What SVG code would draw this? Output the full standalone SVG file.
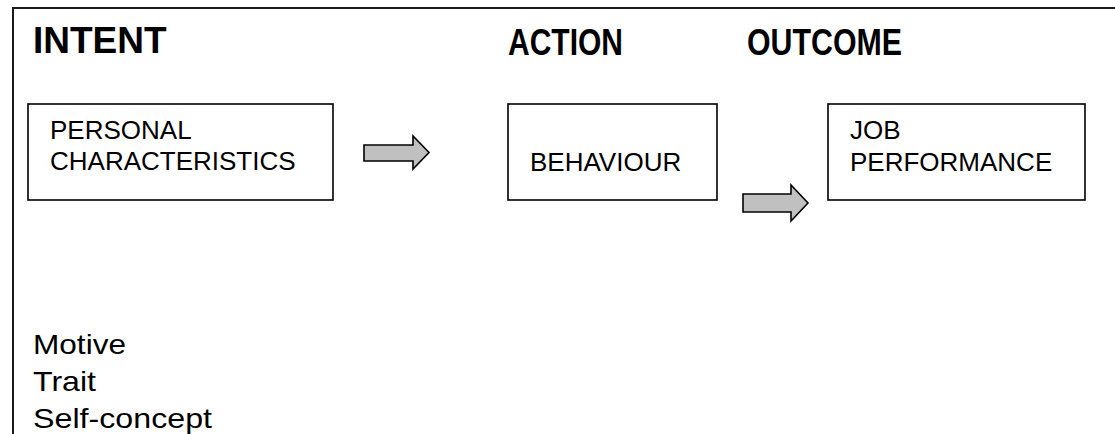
<svg xmlns="http://www.w3.org/2000/svg" width="1115" height="434" viewBox="0 0 1115 434">
  <style>
    .frame { fill: none; stroke: #1a1a1a; stroke-width: 2; }
    .box { fill: #ffffff; stroke: #000000; stroke-width: 1.6; }
    .arrow { fill: #c0c0c0; stroke: #000000; stroke-width: 1.6; stroke-linejoin: miter; }
    .head { font-family: "Liberation Sans", Arial, sans-serif; font-weight: bold; font-size: 37px; fill: #000; }
    .lbl { font-family: "Liberation Sans", Arial, sans-serif; font-size: 26px; fill: #000; }
    .list { font-family: "Liberation Sans", Arial, sans-serif; font-size: 28px; fill: #000; }
  </style>

  <rect width="1115" height="434" fill="#ffffff"/>

  <!-- outer frame, open to the right and bottom -->
  <rect class="frame" x="13" y="8" width="1120" height="450"/>

  <!-- column headings -->
  <g id="headings">
    <text class="head" x="33" y="53">INTENT</text>
    <text class="head" x="508" y="55" textLength="115" lengthAdjust="spacingAndGlyphs">ACTION</text>
    <text class="head" x="747" y="55" textLength="155" lengthAdjust="spacingAndGlyphs">OUTCOME</text>
  </g>

  <g id="personal-characteristics">
    <rect class="box" x="28" y="104" width="305" height="96"/>
    <text class="lbl" x="50" y="139">PERSONAL</text>
    <text class="lbl" x="50" y="170">CHARACTERISTICS</text>
  </g>

  <g id="behaviour">
    <rect class="box" x="508" y="104" width="209" height="96"/>
    <text class="lbl" x="530" y="171">BEHAVIOUR</text>
  </g>

  <g id="job-performance">
    <rect class="box" x="828" y="104" width="257" height="96"/>
    <text class="lbl" x="850" y="139">JOB</text>
    <text class="lbl" x="850" y="171">PERFORMANCE</text>
  </g>

  <g id="connectors">
    <polygon class="arrow" points="364,145 413,145 413,136 429,152.5 413,169 413,161 364,161"/>
    <polygon class="arrow" points="743,194 791,194 791,185 808,203 791,221 791,212 743,212"/>
  </g>

  <g id="characteristic-list">
    <text class="list" x="33" y="354" textLength="93" lengthAdjust="spacingAndGlyphs">Motive</text>
    <text class="list" x="33" y="391" textLength="63" lengthAdjust="spacingAndGlyphs">Trait</text>
    <text class="list" x="33" y="428" textLength="179" lengthAdjust="spacingAndGlyphs">Self-concept</text>
  </g>
</svg>
